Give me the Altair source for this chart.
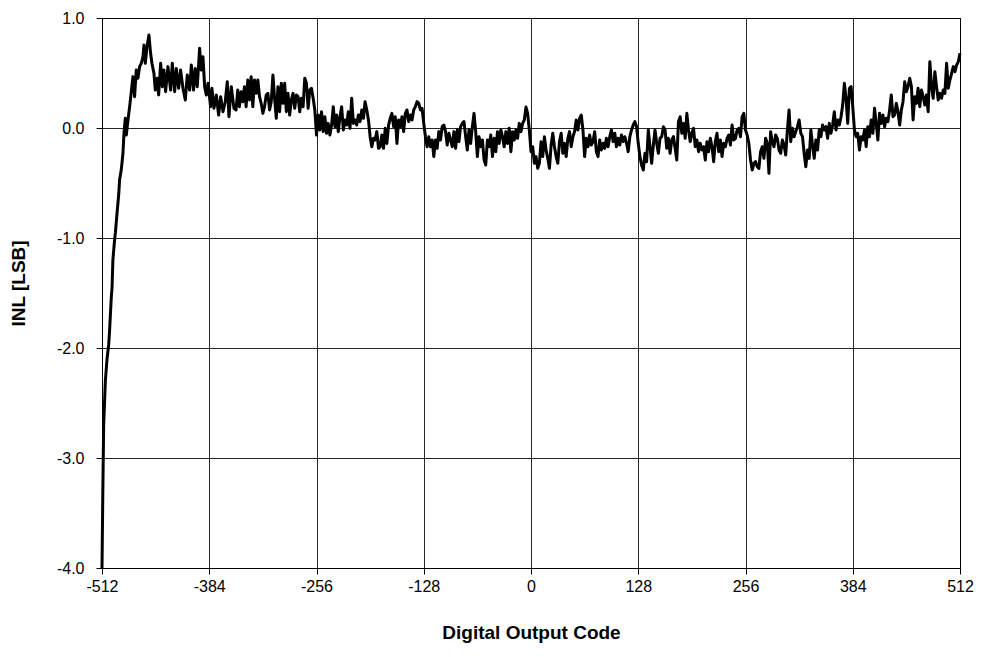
import altair as alt
import numpy as np
import pandas as pd

# Initial steep rise and first plateau (irregularly sampled codes)
rise_codes = [-512, -511, -510, -509, -508, -506, -504, -503, -501, -500, -499, -497, -496, -494, -492, -491,
              -489, -487, -485.8, -484.2, -483, -481, -479, -477, -475.1, -473.1,
              -471.1, -469.1, -467.1, -465.1, -463.1, -461.9, -460.3, -458.3, -456, -454,
              -452.4, -450, -448.4, -446, -444.4, -442, -440, -438.1, -436.1, -433.3,
              -430.1, -428.1, -425.3, -423.3, -420.6, -418.2, -415.4, -412.6, -410.2, -407.4,
              -405.4, -402.7, -400.7, -398.3, -395.5, -393.5, -391.5, -389.5, -387.5, -385.5,
              -382.4, -380.8, -378.4, -375.6, -372.8, -370.4, -367.6, -364.9, -362.5, -360.5,
              -357.7, -354.5]
rise_inl = [-4.0, -3.3, -2.7, -2.5, -2.3, -2.1, -1.97, -1.85, -1.55, -1.45, -1.2, -1.02, -0.95, -0.77, -0.6, -0.47,
            -0.38, -0.23, -0.048, 0.088, -0.064, 0.073, 0.194, 0.33, 0.467, 0.285,
            0.527, 0.452, 0.558, 0.588, 0.648, 0.755, 0.588, 0.739, 0.845, 0.679,
            0.588, 0.497, 0.345, 0.452, 0.30, 0.588, 0.376, 0.527, 0.33, 0.558,
            0.345, 0.588, 0.33, 0.542, 0.361, 0.527, 0.361, 0.255, 0.482, 0.345,
            0.573, 0.345, 0.542, 0.376, 0.724, 0.527, 0.648, 0.376, 0.30, 0.406,
            0.194, 0.361, 0.179, 0.30, 0.118, 0.285, 0.148, 0.239, 0.421, 0.103,
            0.376, 0.179]

# Remaining segments, sampled every 2 codes from a start code
seg1_start = -352
seg1_inl = [0.164, 0.345, 0.194, 0.33, 0.239, 0.376, 0.194, 0.436, 0.255, 0.467,
            0.194, 0.436, 0.315, 0.436, 0.285, 0.224, 0.133, 0.194, 0.30, 0.315,
            0.164, 0.239, 0.482, 0.27, 0.088, 0.376, 0.148, 0.406, 0.224, 0.406,
            0.148, 0.315, 0.118, 0.255, 0.315, 0.179, 0.30, 0.285, 0.148, 0.27,
            0.194, 0.452, 0.406, 0.179, 0.345, 0.361, 0.27, 0.164, -0.064, 0.118,
            -0.018, 0.148, -0.033, 0.103, -0.048, 0.042, -0.064, 0.027, 0.194, 0.012,
            0.118, -0.033, 0.103, 0.194, -0.018, 0.073, 0.027, 0.148, -0.003, 0.27,
            0.042, 0.073, 0.027, 0.118, 0.058, 0.164, 0.088, 0.239, 0.164, 0.073,
            -0.079, -0.17, -0.094, -0.109, -0.033, -0.185]

seg2_start = -180
seg2_inl = [-0.17, -0.064, -0.185, -0.003, -0.14, 0.027, 0.088, 0.133, 0.012, 0.103,
            -0.14, 0.073, 0.012, 0.103, -0.033, 0.133, 0.164, 0.058, 0.118, 0.073,
            0.164, 0.194, 0.24, 0.224, 0.164, 0.179, 0.042, -0.079, -0.17, -0.079,
            -0.17, -0.109, -0.26, -0.109, -0.185, -0.033, -0.109, 0.012, 0.027, -0.033,
            -0.155, -0.048, -0.109, -0.17, -0.033, -0.185, -0.018, -0.124, 0.012, 0.042,
            0.058, -0.079, -0.2, -0.018, -0.14, 0.012, 0.133, -0.033, -0.26, -0.079,
            -0.17, -0.109, -0.29, -0.336, -0.109, -0.17, -0.064, -0.26, -0.094, -0.215,
            -0.033, -0.14, -0.018, -0.079, -0.17, -0.033, -0.14, -0.003, -0.215, -0.033,
            -0.109, -0.018, -0.094, 0.042, -0.033]

seg3_start = -10
seg3_inl = [0.042, 0.073, 0.19, 0.133, -0.018, -0.215, -0.17, -0.321, -0.26, -0.367,
            -0.321, -0.124, -0.26, -0.079, -0.2, -0.276, -0.367, -0.155, -0.048, -0.17,
            -0.26, -0.321, -0.124, -0.048, -0.23, -0.139, -0.26, -0.094, -0.033, -0.17,
            -0.079, -0.033, 0.073, -0.018, 0.088, 0.118, -0.018, -0.26, -0.094, -0.17,
            -0.064, -0.155, -0.124, -0.033, -0.215, -0.26, -0.109, -0.2, -0.139, -0.185,
            -0.094, -0.17, -0.079, -0.018, -0.124, -0.048, -0.17, -0.094, -0.155, -0.064,
            -0.124, -0.079, -0.139, -0.215, -0.079, -0.018, 0.027, 0.058, 0.012, -0.139,
            -0.26, -0.336, -0.382, -0.23, -0.306, -0.018, -0.17, -0.321, -0.155, -0.018,
            -0.139, -0.23, -0.094]

seg4_start = 156
seg4_inl = [-0.079, 0.012, -0.018, -0.185, -0.094, -0.23, -0.109, -0.079, -0.185, -0.291,
            0.058, 0.103, -0.048, 0.042, -0.094, 0.133, -0.018, -0.124, -0.048, -0.003,
            -0.17, -0.109, -0.215, -0.139, -0.2, -0.17, -0.291, -0.124, -0.215, -0.094,
            -0.17, -0.306, -0.124, -0.048, -0.215, -0.109, -0.26, -0.139, -0.17, -0.094,
            -0.064, -0.155, 0.027, -0.109, -0.094, -0.018, -0.003, -0.079, 0.103, 0.133,
            -0.018, -0.064, -0.139, -0.291, -0.382, -0.321, -0.306, -0.352, -0.367, -0.215,
            -0.17, -0.276, -0.094, -0.139, -0.412, -0.033, -0.124, -0.17, -0.064, -0.094,
            -0.2, -0.23, -0.109, -0.155, -0.245, -0.018, 0.164, -0.124, -0.003, -0.079,
            -0.033, 0.012, 0.073, -0.048]

seg5_start = 324
seg5_inl = [-0.079, -0.23, -0.352, -0.2, -0.276, -0.018, -0.155, -0.276, -0.109, -0.2,
            -0.018, -0.079, 0.027, -0.018, 0.012, -0.094, 0.042, -0.048, 0.027, 0.148,
            -0.018, 0.073, 0.027, 0.103, 0.209, 0.406, 0.27, 0.042, 0.361, 0.376,
            0.194, -0.018, -0.079, -0.048, -0.2, -0.079, -0.109, -0.018, -0.17, 0.012,
            -0.079, 0.073, -0.048, 0.179, 0.042, -0.109, 0.133, 0.042, 0.118, 0.012,
            0.088, 0.058, 0.164, 0.30, 0.103, 0.118, 0.224, 0.148, 0.027, 0.164,
            0.239, 0.421, 0.33, 0.376, 0.452, 0.376, 0.073, 0.285, 0.224, 0.361,
            0.194, 0.345, 0.285, 0.209, 0.30, 0.148, 0.603, 0.376, 0.27, 0.512,
            0.376, 0.255, 0.315, 0.27, 0.345, 0.315, 0.588, 0.361, 0.436, 0.497,
            0.558, 0.512, 0.573, 0.603, 0.679]

x_ticks = [-512, -384, -256, -128, 0, 128, 256, 384, 512]
y_ticks = [-4, -3, -2, -1, 0, 1]

frames = [pd.DataFrame({"code": rise_codes, "inl": rise_inl})]
for start, vals in [(seg1_start, seg1_inl), (seg2_start, seg2_inl), (seg3_start, seg3_inl),
                    (seg4_start, seg4_inl), (seg5_start, seg5_inl)]:
    frames.append(pd.DataFrame({"code": start + 2 * np.arange(len(vals)), "inl": vals}))
df = pd.concat(frames, ignore_index=True).sort_values("code")

FONT = "Liberation Sans"


def label_expr(fmt):
    return (f"datum.value < 0 ? '-' + format(-datum.value, '{fmt}') "
            f": format(datum.value, '{fmt}')")


chart = (
    alt.Chart(df)
    .mark_line(color="black", strokeWidth=3, strokeJoin="round")
    .encode(
        x=alt.X(
            "code:Q",
            scale=alt.Scale(domain=[-512, 512], nice=False, zero=False),
            axis=alt.Axis(
                values=x_ticks,
                title="Digital Output Code",
                labelExpr=label_expr("d"),
                labelFlush=False,
                labelOverlap=False,
                labelBound=False,
                titleY=64,
                titleBaseline="middle",
                labelPadding=4,
            ),
        ),
        y=alt.Y(
            "inl:Q",
            scale=alt.Scale(domain=[-4, 1], nice=False, zero=False),
            axis=alt.Axis(
                values=y_ticks,
                title="INL [LSB]",
                labelExpr=label_expr(".1f"),
                labelFlush=False,
                labelOverlap=False,
                titleX=-84,
                titleY=265,
                titleBaseline="middle",
                titleAngle=270,
                labelPadding=12,
            ),
        ),
    )
    .properties(
        width=858,
        height=550,
        padding={"left": 94, "top": 10, "right": 20, "bottom": 80},
        autosize=alt.AutoSizeParams(type="none"),
        background="white",
    )
    .configure_view(stroke="black", strokeWidth=1)
    .configure_axis(
        domainColor="black",
        domainWidth=1,
        tickColor="black",
        tickSize=6,
        gridColor="#000000",
        gridWidth=1,
        gridOpacity=0.85,
        labelFont=FONT,
        labelFontSize=16,
        labelColor="black",
        titleFont=FONT,
        titleFontSize=19,
        titleFontWeight="bold",
        titleColor="black",
    )
)

chart.save("out.html", embed_options={"renderer": "svg", "actions": False})
